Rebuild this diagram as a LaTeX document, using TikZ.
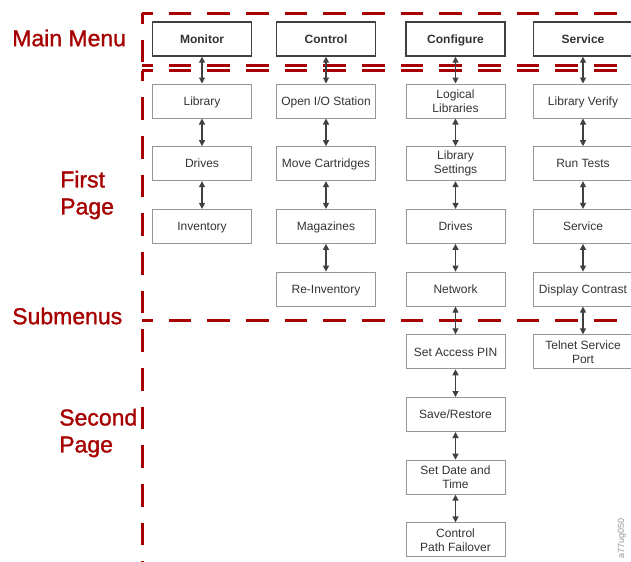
\documentclass[tikz,border=0pt]{standalone}
\usepackage{fontspec}
\setmainfont{Liberation Sans}
\newfontfamily\labelfont[FakeBold=1.2]{Liberation Sans}
\usetikzlibrary{arrows.meta, positioning}
\definecolor{menured}{RGB}{166,0,0}
\definecolor{boxgray}{RGB}{150,150,150}
\definecolor{inkgray}{RGB}{64,64,64}
\definecolor{textgray}{RGB}{51,51,51}

\tikzset{
  mainbox/.style={draw=inkgray, line width=1.1pt, minimum width=74.25pt, minimum height=25.5pt,
    inner sep=1pt, text height=7.2pt, text depth=0.8pt, text=textgray,
    font=\fontsize{9}{10.5}\selectfont\bfseries},
  subbox/.style={draw=boxgray, line width=0.75pt, minimum width=74.25pt, minimum height=25.5pt,
    inner sep=1pt, text height=7.2pt, text depth=0.8pt, align=center, text=textgray,
    font=\fontsize{9}{10.5}\selectfont},
  twobox/.style={subbox, text height=, text depth=},
  link/.style={{Triangle[length=4.5pt,width=4.5pt]}-{Triangle[length=4.5pt,width=4.5pt]}, inkgray, line width=0.9pt},
  menuline/.style={menured, line width=2.25pt, dash pattern=on 17pt off 12pt, dash phase=9pt},
  pagelabel/.style={menured, anchor=west, inner sep=0pt, align=left,
    font=\labelfont\fontsize{17.25}{20.25}\selectfont}
}

\begin{document}
\begin{tikzpicture}[x=0.75pt, y=-0.75pt]
  \useasboundingbox (0,0) rectangle (631,561);

  % Frames around the menu levels
  \draw[menuline] (142,13) -- (640,13);
  \draw[menuline] (142,65) -- (640,65);
  \draw[menuline] (142,13) -- (142,65);
  \draw[menuline] (142,70.5) -- (640,70.5);
  \draw[menuline] (142,320) -- (640,320);
  \draw[menuline] (142,70.5) -- (142,570);

  % Level labels
  \node[pagelabel] (mainlbl) at (12,38) {Main Menu};
  \node[pagelabel] (firstlbl) at (60,195) {First\\Page};
  \node[pagelabel] (sublbl) at (12,316) {Submenus};
  \node[pagelabel] (secondlbl) at (59,433) {Second\\Page};

  % Main menu
  \node[mainbox] (monitor) at (202,39) {Monitor};
  \node[mainbox] (control) at (326,39) {Control};
  \node[mainbox] (configure) at (455.5,39) {Configure};
  \node[mainbox] (service) at (583,39) {Service};

  % Monitor submenus
  \node[subbox] (mlib) at (202,101) {Library};
  \node[subbox] (mdrv) at (202,163.7) {Drives};
  \node[subbox] (minv) at (202,226.4) {Inventory};

  % Control submenus
  \node[subbox] (cio) at (326,101) {Open I/O Station};
  \node[subbox] (cmove) at (326,163.7) {Move Cartridges};
  \node[subbox] (cmag) at (326,226.4) {Magazines};
  \node[subbox] (creinv) at (326,289.1) {Re-Inventory};

  % Configure submenus
  \node[twobox] (glog) at (455.5,101) {Logical\\Libraries};
  \node[twobox] (gset) at (455.5,163.7) {Library\\Settings};
  \node[subbox] (gdrv) at (455.5,226.4) {Drives};
  \node[subbox] (gnet) at (455.5,289.1) {Network};
  \node[subbox] (gpin) at (455.5,351.8) {Set Access PIN};
  \node[subbox] (gsave) at (455.5,414.5) {Save/Restore};
  \node[twobox] (gdate) at (455.5,477.2) {Set Date and\\Time};
  \node[twobox] (gcpf) at (455.5,539.9) {Control\\Path Failover};

  % Service submenus
  \node[subbox] (slv) at (583,101) {Library Verify};
  \node[subbox] (srun) at (583,163.7) {Run Tests};
  \node[subbox] (ssvc) at (583,226.4) {Service};
  \node[subbox] (sdisp) at (583,289.1) {Display Contrast};
  \node[twobox] (stel) at (583,351.8) {Telnet Service\\Port};

  % Links
  \draw[link] (monitor) -- (mlib);
  \draw[link] (mlib) -- (mdrv);
  \draw[link] (mdrv) -- (minv);

  \draw[link] (control) -- (cio);
  \draw[link] (cio) -- (cmove);
  \draw[link] (cmove) -- (cmag);
  \draw[link] (cmag) -- (creinv);

  \draw[link] (configure) -- (glog);
  \draw[link] (glog) -- (gset);
  \draw[link] (gset) -- (gdrv);
  \draw[link] (gdrv) -- (gnet);
  \draw[link] (gnet) -- (gpin);
  \draw[link] (gpin) -- (gsave);
  \draw[link] (gsave) -- (gdate);
  \draw[link] (gdate) -- (gcpf);

  \draw[link] (service) -- (slv);
  \draw[link] (slv) -- (srun);
  \draw[link] (srun) -- (ssvc);
  \draw[link] (ssvc) -- (sdisp);
  \draw[link] (sdisp) -- (stel);

  % Figure number
  \node[rotate=90, text=boxgray, inner sep=0pt, font=\fontsize{6.75}{8}\selectfont] (fignum) at (622,538) {a77ug050};
\end{tikzpicture}
\end{document}
